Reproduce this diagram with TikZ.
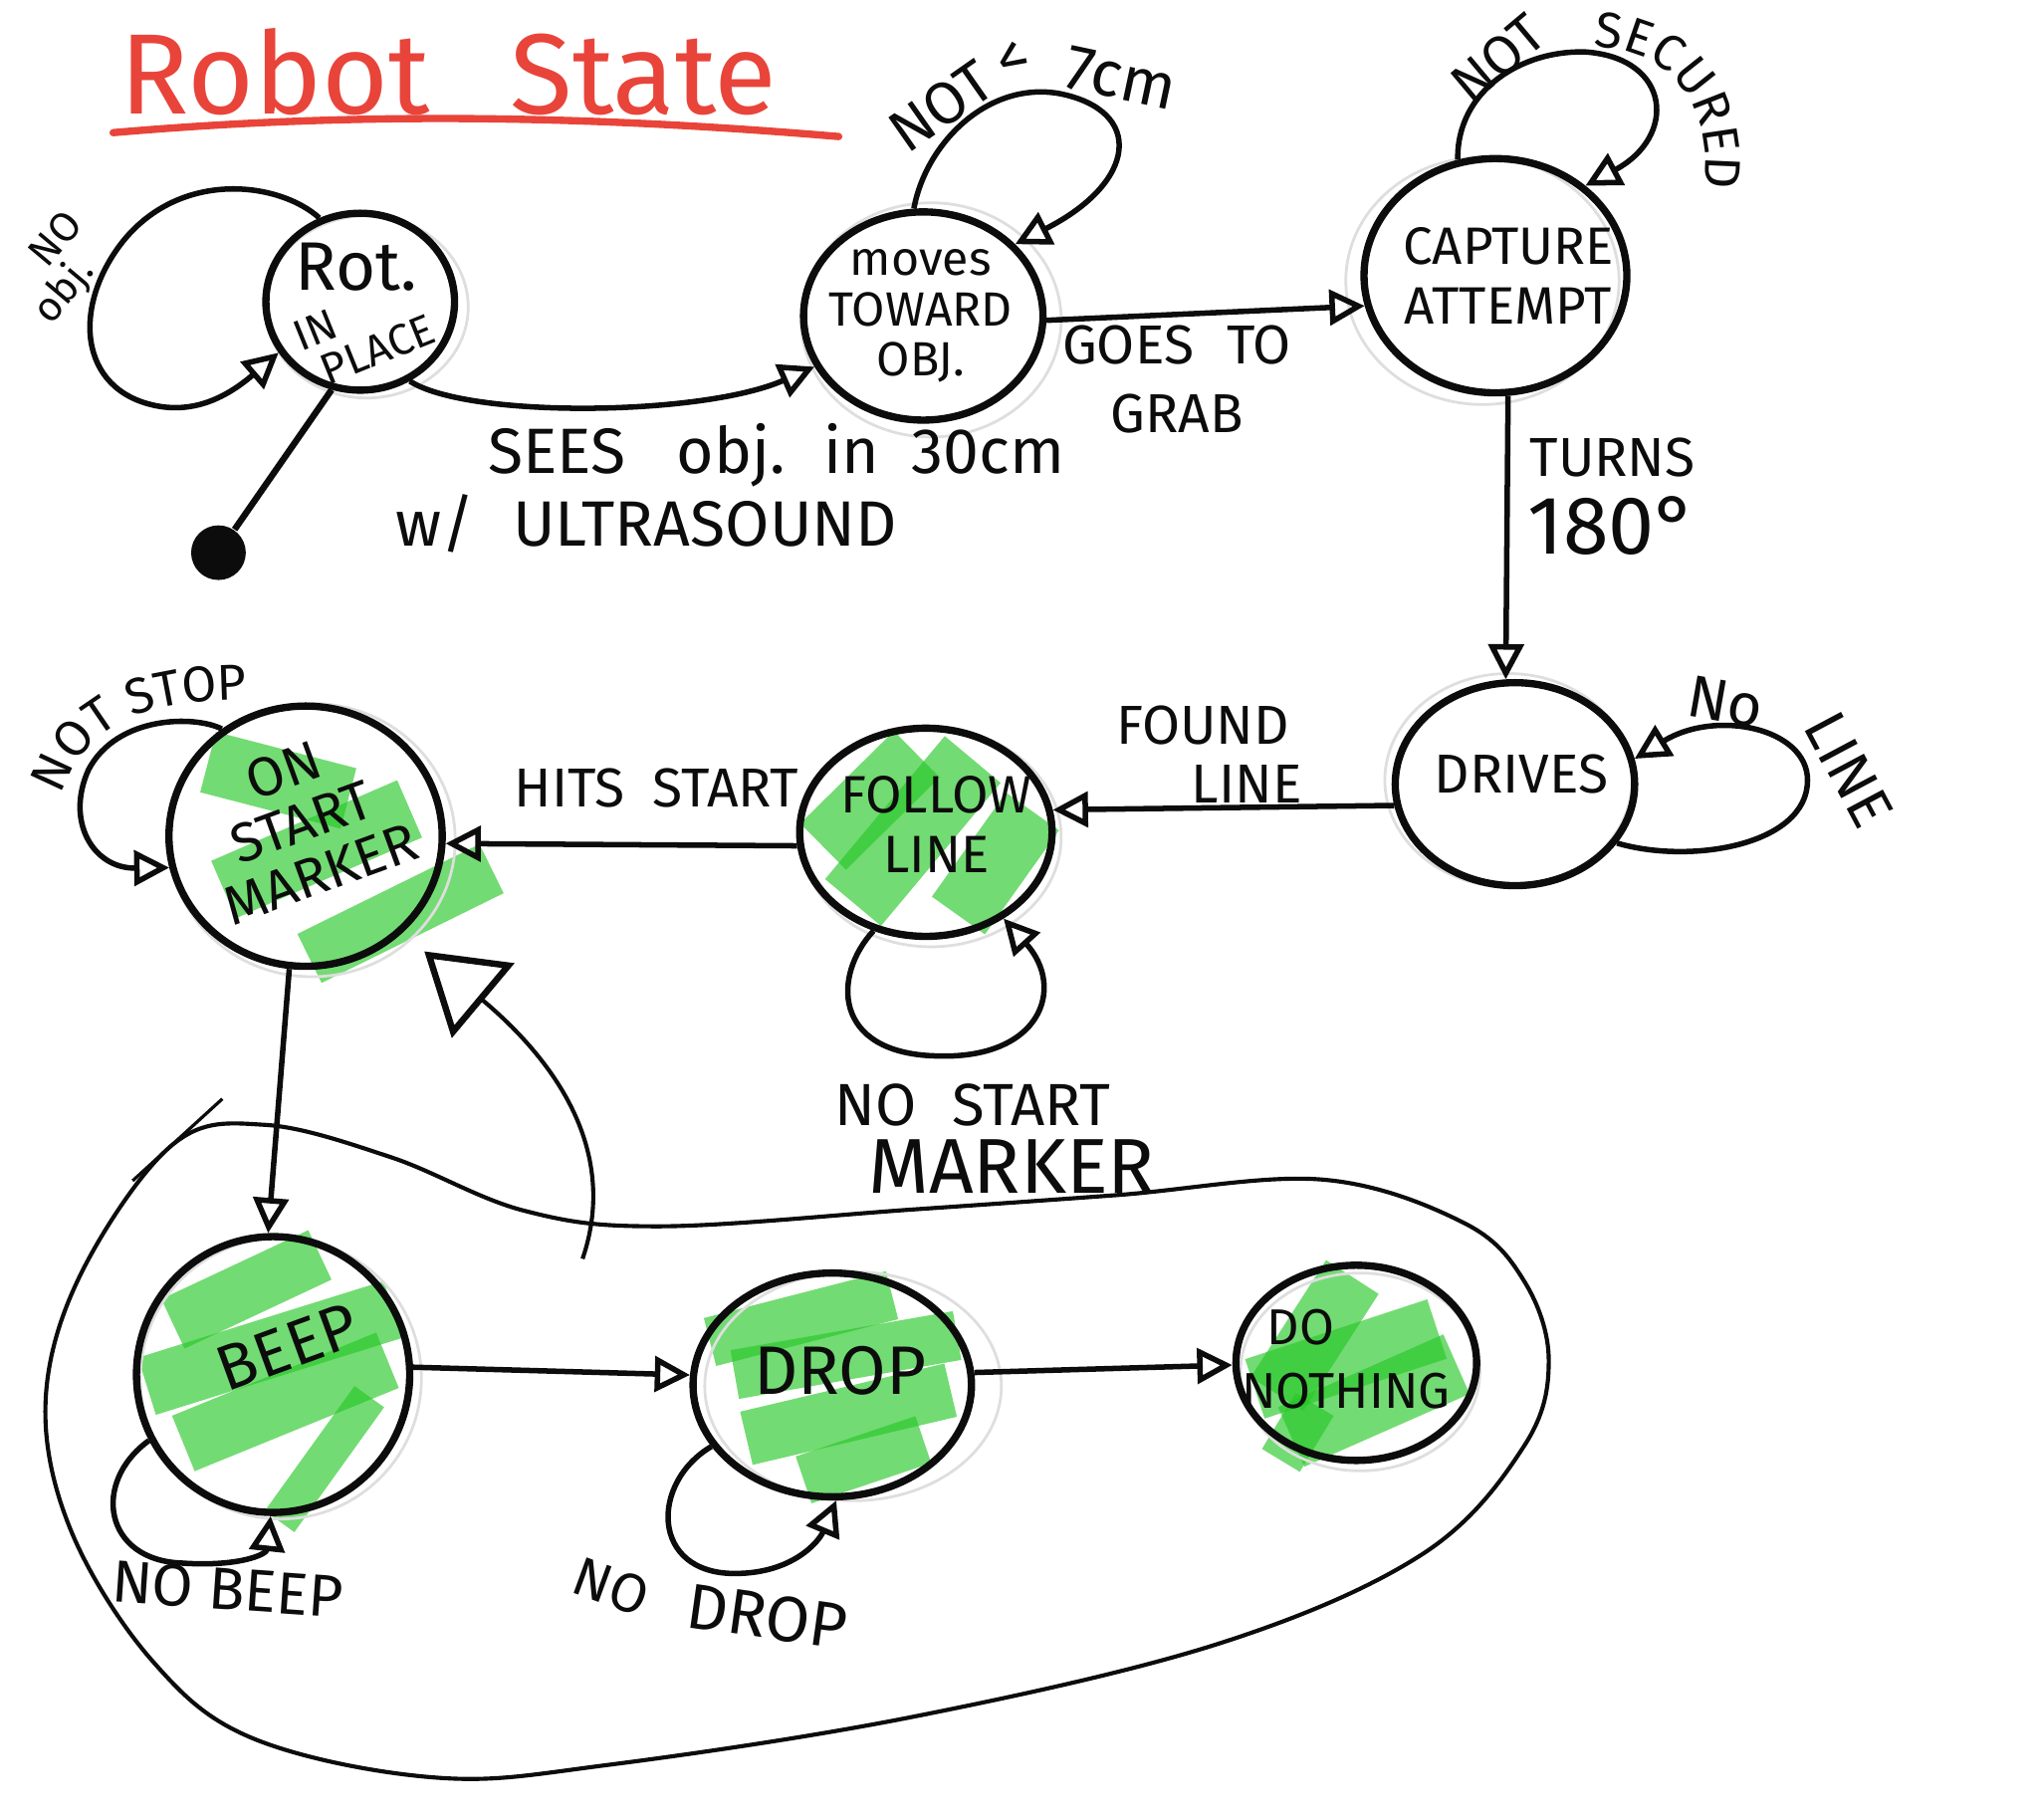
\documentclass[tikz,border=0pt]{standalone}
\usepackage{fontspec}
\setmainfont{Fira Sans}
\usetikzlibrary{arrows.meta,shapes.geometric,decorations.text}
\definecolor{ink}{RGB}{12,12,12}
\definecolor{titlered}{RGB}{233,68,58}
\definecolor{hl}{RGB}{40,200,40}
\definecolor{sketch}{RGB}{222,222,222}
\newcommand\fsz[2]{\fontsize{#1}{#2}\selectfont}
\tikzset{
  stnode/.style={ellipse, draw=ink, line width=1.6pt, inner sep=0pt},
  opentip/.style={-{Triangle[open,length=0.27cm,width=0.27cm,line width=1.2pt]}},
  conn/.style={draw=ink, line width=1.2pt, opentip},
  lbl/.style={text=ink, inner sep=0pt},
  hlstroke/.style={draw=hl, line width=#1, opacity=0.65},
  sk/.style={draw=sketch, line width=0.6pt},
}
\begin{document}
\begin{tikzpicture}[x=0.01cm,y=-0.01cm]
\useasboundingbox (0,0) rectangle (1568,1399);
\fill[white] (0,0) rectangle (1568,1399);

% title
\node[text=titlered, font=\fsz{25}{25}, inner sep=0pt] (title) at (345,55) {Robot\hspace{0.7em}State};
\draw[titlered, line width=1.6pt, line cap=round] (87,102) .. controls (250,88) and (420,86) .. (645,105);

% green highlighter strokes
% on start marker
\draw[hlstroke=0.48cm] (160,586) -- (268,614);
\draw[hlstroke=0.48cm] (172,684) -- (315,622);
\draw[hlstroke=0.42cm] (238,737) -- (378,668);
% follow line
\draw[hlstroke=0.50cm] (633,651) -- (705,580);
\draw[hlstroke=0.56cm] (656,694) -- (748,584);
\draw[hlstroke=0.50cm] (737,704) -- (794,624);
% beep
\draw[hlstroke=0.42cm] (133,1018) -- (246,965);
\draw[hlstroke=0.46cm] (113,1066) -- (302,1007);
\draw[hlstroke=0.46cm] (141,1110) -- (298,1046);
\draw[hlstroke=0.28cm] (284,1074) -- (215,1170);
% drop
\draw[hlstroke=0.38cm] (546,1032) -- (686,996);
\draw[hlstroke=0.38cm] (565,1057) -- (736,1027);
\draw[hlstroke=0.42cm] (574,1106) -- (731,1069);
\draw[hlstroke=0.38cm] (618,1138) -- (710,1107);
% do nothing
\draw[hlstroke=0.48cm] (982,1072) -- (1040,982);
\draw[hlstroke=0.48cm] (965,1068) -- (1105,1022);
\draw[hlstroke=0.50cm] (993,1105) -- (1120,1049);
\draw[hlstroke=0.34cm] (985,1123) -- (1011,1080);

% faint sketch outlines
\draw[sk] (282,236) ellipse [x radius=0.78cm, y radius=0.70cm];
\draw[sk] (716,246) ellipse [x radius=1.00cm, y radius=0.90cm];
\draw[sk] (1140,216) ellipse [x radius=1.05cm, y radius=0.95cm];
\draw[sk] (1160,600) ellipse [x radius=0.95cm, y radius=0.82cm];
\draw[sk] (716,644) ellipse [x radius=1.00cm, y radius=0.84cm];
\draw[sk] (240,646) ellipse [x radius=1.10cm, y radius=1.05cm];
\draw[sk] (216,1060) ellipse [x radius=1.08cm, y radius=1.08cm];
\draw[sk] (656,1066) ellipse [x radius=1.14cm, y radius=0.88cm];
\draw[sk] (1046,1055) ellipse [x radius=0.92cm, y radius=0.76cm];

% state nodes
\node[stnode, minimum width=1.45cm, minimum height=1.36cm] (rot) at (277,232) {};
\node[stnode, minimum width=1.84cm, minimum height=1.60cm] (moves) at (710,243) {};
\node[stnode, minimum width=2.02cm, minimum height=1.80cm] (capture) at (1150,212) {};
\node[stnode, minimum width=1.84cm, minimum height=1.56cm] (drives) at (1165,603) {};
\node[stnode, minimum width=1.94cm, minimum height=1.60cm] (follow) at (712,640) {};
\node[stnode, minimum width=2.10cm, minimum height=2.00cm] (onstart) at (235,643) {};
\node[stnode, minimum width=2.10cm, minimum height=2.12cm] (beep) at (210,1057) {};
\node[stnode, minimum width=2.14cm, minimum height=1.72cm] (drop) at (640,1065) {};
\node[stnode, minimum width=1.85cm, minimum height=1.50cm] (donothing) at (1043,1048) {};

% initial dot
\node[circle, fill=ink, minimum size=0.42cm, inner sep=0pt] (init) at (168,425) {};

% node texts
\node[lbl, font=\fsz{15}{15}] (rotA) at (274,205) {Rot.};
\node[lbl, font=\fsz{9.5}{9}, align=left, rotate=22] (rotB) at (280,256) {IN\\\hspace{0.3em}PLACE};
\node[lbl, font=\fsz{10.5}{11}, align=center] (movesT) at (708,243) {moves\\TOWARD\\OBJ.};
\node[lbl, font=\fsz{11.5}{13}, align=center] (captureT) at (1160,212) {CAPTURE\\ATTEMPT};
\node[lbl, font=\fsz{12}{12}] (drivesT) at (1170,595) {DRIVES};
\node[lbl, font=\fsz{11.5}{13}, align=center] (followT) at (720,634) {FOLLOW\\LINE};
\node[lbl, font=\fsz{12}{12}, align=center, rotate=20] (onstartT) at (232,632) {ON\\START\\MARKER};
\node[lbl, font=\fsz{14}{14}, rotate=20] (beepT) at (221,1036) {BEEP};
\node[lbl, font=\fsz{15}{15}] (dropT) at (646,1054) {DROP};
\node[lbl, font=\fsz{11}{14}, align=center] (donothingT) at (1035,1045) {DO\hspace*{1.8em}\\NOTHING};

% connectors
\draw[line width=1.4pt, draw=ink] (init) -- (rot.-108);
\draw[conn] (rot.116) .. controls (215,140) and (140,130) .. (95,185)
            .. controls (55,235) and (60,300) .. (120,312)
            .. controls (150,318) and (175,305) .. (rot.212);
\draw[conn] (rot.-58) .. controls (360,322) and (540,320) .. (moves.205);
\draw[conn] (moves.95) .. controls (712,110) and (760,62) .. (815,72)
            .. controls (880,85) and (875,140) .. (moves.38);
\draw[conn] (moves.-2) -- (capture.193);
\draw[conn] (capture.108) .. controls (1120,70) and (1170,38) .. (1220,40)
            .. controls (1285,45) and (1290,105) .. (capture.45);
\draw[conn] (capture.-84) -- (drives.95);
\draw[conn] (drives.-30) .. controls (1300,665) and (1390,650) .. (1390,600)
            .. controls (1390,560) and (1320,545) .. (drives.12);
\draw[conn] (drives.190) -- (follow.10);
\draw[conn] (follow.-118) .. controls (640,750) and (640,810) .. (720,812)
            .. controls (800,815) and (820,760) .. (follow.-48);
\draw[conn] (follow.186) -- (onstart.-3);
\draw[conn] (onstart.128) .. controls (150,550) and (90,550) .. (68,592)
            .. controls (50,632) and (72,668) .. (onstart.193);
\draw[conn] (onstart.-97) -- (beep.92);
\draw[conn] (beep.208) .. controls (70,1140) and (80,1200) .. (140,1202)
            .. controls (185,1205) and (205,1195) .. (beep.-91);
\draw[conn] (beep.3) -- (drop.176);
\draw[conn] (drop.207) .. controls (500,1140) and (500,1210) .. (565,1210)
            .. controls (610,1210) and (630,1185) .. (drop.-88);
\draw[conn] (drop.5) -- (donothing.181);

% big group outline
\draw[ink, line width=0.9pt] plot[smooth cycle, tension=0.6] coordinates {
 (133,880) (204,865) (301,890) (403,931) (508,943) (703,930) (859,919)
 (1016,907) (1125,940) (1172,985) (1191,1046) (1172,1112) (1094,1195)
 (937,1264) (703,1320) (469,1357) (336,1367) (195,1337) (117,1277)
 (55,1178) (35,1079) (62,980)};
\draw[ink, line width=0.7pt] (171,845) -- (102,908);
\coordinate (bigtail) at (448,968);
\draw[ink, line width=0.9pt, shorten >=0.22cm, -{Triangle[open,length=0.59cm,width=0.74cm,line width=1.4pt]}]
  (bigtail) .. controls (478,880) and (420,810) .. (onstart.-45);

% labels
\node[lbl, font=\fsz{9}{8.5}, align=left, rotate=50] (lNoObj) at (46,207) {\hspace*{1em}NO\\obj.};
\node[lbl, font=\fsz{14}{14}] (lSees) at (597,350) {SEES\hspace{0.8em}obj.\hspace{0.6em}in\hspace{0.5em}30cm};
\node[lbl, font=\fsz{14}{14}] (lUltra) at (497,403) {w/\hspace{0.6em}ULTRASOUND};
\node[lbl, font=\fsz{13}{13}, rotate=35] (lNot7) at (738,72) {NOT <};
\node[lbl, font=\fsz{14}{14}, rotate=-12] (l7cm) at (862,60) {7cm};
\node[lbl, font=\fsz{12}{15}, align=center] (lGoes) at (905,292) {GOES\hspace{0.6em}TO\\GRAB};
\node[lbl, font=\fsz{12}{12}, rotate=40] (lNotSec) at (1152,45) {NOT};
\path[decorate, decoration={text along path, text align=center,
   text={|\fsz{11}{11}\color{ink}|SECURED}}]
   (1222,36) .. controls (1287,36) and (1320,85) .. (1310,148);
\node[lbl, font=\fsz{12}{17}, align=center] (lTurns) at (1240,382) {TURNS\\{\fsz{18}{18}180°}};
\node[lbl, font=\fsz{13}{13}, rotate=-10] (lNo) at (1327,540) {No};
\node[lbl, font=\fsz{13}{13}, rotate=-62] (lLine) at (1422,592) {LINE};
\node[lbl, font=\fsz{12}{13}, align=center] (lFound) at (925,580) {FOUND\\\hspace{1.6em}LINE};
\node[lbl, font=\fsz{12}{12}] (lHits) at (505,606) {HITS\hspace{0.5em}START};
\node[lbl, font=\fsz{13}{13}] (lNoStart) at (748,850) {NO\hspace{0.6em}START};
\node[lbl, font=\fsz{17}{17}] (lMarker) at (778,897) {MARKER};
\path[decorate, decoration={text along path, text align=center,
   text={|\fsz{11}{11}\color{ink}|NOT STOP}}]
   (50,604) .. controls (70,556) and (110,540) .. (182,538);
\node[lbl, font=\fsz{13}{13}, rotate=-4] (lNoBeep) at (175,1222) {NO BEEP};
\node[lbl, font=\fsz{12}{12}, rotate=-20] (lNoD) at (470,1220) {NO};
\node[lbl, font=\fsz{14}{14}, rotate=-8] (lDrop) at (590,1243) {DROP};
\end{tikzpicture}
\end{document}
